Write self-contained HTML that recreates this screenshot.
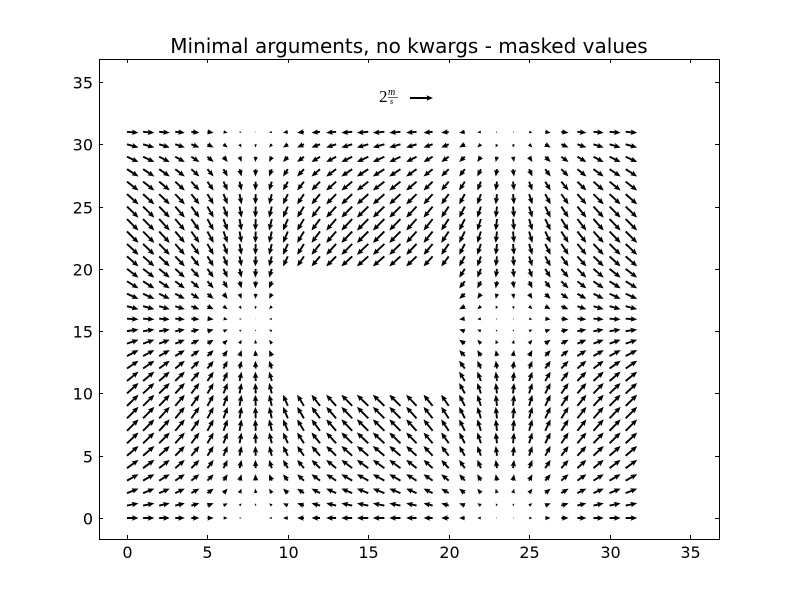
<!DOCTYPE html>
<html><head><meta charset="utf-8"><style>
html,body{margin:0;padding:0;background:#fff;}
svg text{font-family:"DejaVu Sans","Liberation Sans",sans-serif;}
</style></head><body>
<svg id="chart" width="800" height="600" xmlns="http://www.w3.org/2000/svg">
<rect x="0" y="0" width="800" height="600" fill="#fff"/>
<text x="409" y="53" text-anchor="middle" font-size="20">Minimal arguments, no kwargs - masked values</text>
<g id="arrows"></g>
<g id="xt"></g>
<g id="yt"></g>
<rect x="99.5" y="59.5" width="620" height="480" fill="none" stroke="#000" stroke-width="1"/>
<g>
<text x="379" y="102" font-size="17" style="font-family:'Liberation Serif',serif">2</text>
<text x="388" y="95" font-size="10" font-style="italic" style="font-family:'Liberation Serif',serif">m</text>
<line x1="388" y1="97.5" x2="398" y2="97.5" stroke="#000" stroke-width="0.6"/>
<text x="390" y="104" font-size="8" font-style="italic" style="font-family:'Liberation Serif',serif">s</text>
<g id="keyarrow"></g>
</g>
</svg>
<script>
const U = [1.00,0.98,0.92,0.83,0.70,0.54,0.36,0.17,-0.03,-0.23,-0.42,-0.59,-0.74,-0.86,-0.94,-0.99,-1.00,-0.97,-0.90,-0.79,-0.65,-0.49,-0.31,-0.11,0.09,0.28,0.47,0.63,0.78,0.89,0.96,1.00];
const V = [0,0.20,0.39,0.56,0.72,0.84,0.93,0.99,1.00,0.97,0.91,0.81,0.68,0.52,0.33,0.14,-0.06,-0.26,-0.44,-0.61,-0.76,-0.87,-0.95,-0.99,-1.00,-0.96,-0.89,-0.77,-0.63,-0.46,-0.28,-0.08];
const maskLo = 10, maskHi = 20;
const xTicks = [0,5,10,15,20,25,30,35];
const yTicks = [0,5,10,15,20,25,30,35];
const keyValue = 2;

const NS = "http://www.w3.org/2000/svg";
const xs = v => 127 + v * (690 - 127) / 35;
const ys = v => 518 - v * (518 - 82) / 35;
const SCALE = 11.5;

function arrowPts(x0, y0, dx, dy) {
  const L = Math.hypot(dx, dy);
  if (L < 0.3) return null;
  let w = 1.9, hl = 6.5, hw = 5.5, ha = 5.8;
  if (L < hl) { const f = L / hl; w *= f; hl *= f; hw *= f; ha *= f; }
  const ux = dx / L, uy = dy / L, px = -uy, py = ux;
  const pts = [
    [0, w / 2], [L - ha, w / 2], [L - hl, hw / 2], [L, 0],
    [L - hl, -hw / 2], [L - ha, -w / 2], [0, -w / 2]
  ];
  return pts.map(p => (x0 + ux * p[0] + px * p[1]).toFixed(2) + "," + (y0 + uy * p[0] + py * p[1]).toFixed(2)).join(" ");
}

const g = document.getElementById("arrows");
for (let j = 0; j < V.length; j++) {
  for (let i = 0; i < U.length; i++) {
    if (i >= maskLo && i <= maskHi && j >= maskLo && j <= maskHi) continue;
    const pts = arrowPts(xs(i), ys(j), U[i] * SCALE, -V[j] * SCALE);
    if (!pts) continue;
    const p = document.createElementNS(NS, "polygon");
    p.setAttribute("points", pts);
    p.setAttribute("fill", "#000");
    
    
    g.appendChild(p);
  }
}
const ka = document.createElementNS(NS, "polygon");
ka.setAttribute("points", arrowPts(410, 98, keyValue * SCALE, 0));
ka.setAttribute("fill", "#000");


document.getElementById("keyarrow").appendChild(ka);

const xt = document.getElementById("xt");
xTicks.forEach(t => {
  const x = Math.round(xs(t)) + 0.5;
  [[539, 535], [59, 63]].forEach(([a, b]) => {
    const l = document.createElementNS(NS, "line");
    l.setAttribute("x1", x); l.setAttribute("x2", x); l.setAttribute("y1", a); l.setAttribute("y2", b);
    l.setAttribute("stroke", "#000");
    
    
    xt.appendChild(l);
  });
  const tx = document.createElementNS(NS, "text");
  tx.setAttribute("x", x); tx.setAttribute("y", 558); tx.setAttribute("text-anchor", "middle"); tx.setAttribute("font-size", "16");
  tx.textContent = t;
  
  
  xt.appendChild(tx);
});
const yt = document.getElementById("yt");
yTicks.forEach(t => {
  const y = Math.round(ys(t)) + 0.5;
  [[99, 103], [719, 715]].forEach(([a, b]) => {
    const l = document.createElementNS(NS, "line");
    l.setAttribute("x1", a); l.setAttribute("x2", b); l.setAttribute("y1", y); l.setAttribute("y2", y);
    l.setAttribute("stroke", "#000");
    
    
    yt.appendChild(l);
  });
  const tx = document.createElementNS(NS, "text");
  tx.setAttribute("x", 93); tx.setAttribute("y", y + 6); tx.setAttribute("text-anchor", "end"); tx.setAttribute("font-size", "16");
  tx.textContent = t;
  
  
  yt.appendChild(tx);
});
</script>
</body></html>
